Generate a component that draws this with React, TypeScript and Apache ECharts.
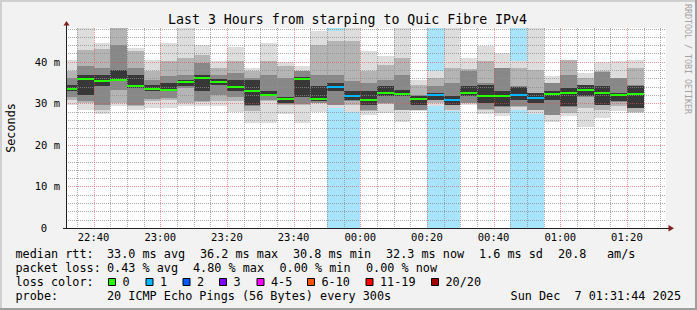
import React, { useEffect, useRef } from "react";
import * as echarts from "echarts";

// ---------- data ----------
const windowStart = "22:31:44";
const windowHours = 3;
const barStarts = ["22:30","22:35","22:40","22:45","22:50","22:55","23:00","23:05","23:10","23:15","23:20","23:25","23:30","23:35","23:40","23:45","23:50","23:55","00:00","00:05","00:10","00:15","00:20","00:25","00:30","00:35","00:40","00:45","00:50","00:55","01:00","01:05","01:10","01:15","01:20"];
const median = [33.5,35.9,35.3,35.7,34.2,33.5,33.3,35.2,36.2,35.2,34.0,33.0,32.1,31.0,35.9,31.1,34.0,31.7,30.9,32.6,32.3,31.0,32.1,30.7,32.6,31.7,31.8,32.1,31.4,32.3,32.6,33.3,32.6,32.1,32.3];
const lossCount = [0,0,0,0,0,0,0,0,0,0,0,0,0,0,0,0,1,1,0,0,0,0,1,1,0,0,0,1,1,0,0,0,0,0,0];
const pingMax = [40.5,49,44.5,49,43.3,40.5,44.5,49,44.1,40.1,43.5,38.5,44.5,39.9,38.9,47.3,47.3,49,42.7,41.3,49,35.7,37.7,49,40.9,43.9,42.1,40.1,49,36.5,40.5,37.3,39.9,40.1,40.5];
const pingHi1 = [37.7,42.9,43.0,49,42.5,37.7,40.1,40.9,41.7,38.5,40.1,37.7,40.1,38.9,37.9,44.1,44.9,44.9,37.7,39.3,40.9,34.5,36.1,38.5,38.3,40.1,38.5,38.5,38.1,35.0,40.4,36.1,37.7,36.1,38.5];
const pingHi2 = [36.1,38.9,38.5,44.1,38.5,35.5,36.5,36.9,39.7,36.9,37.3,36.1,36.7,36.1,37.7,36.9,36.9,35.3,34.9,35.7,36.9,31.9,34.1,34.9,37.9,35.0,38.4,34.1,32.5,34.9,36.9,34.5,37.6,36.0,34.5];
const pingHi3 = [34.5,36.9,36.9,38.1,36.9,34.5,34.9,35.7,36.9,35.9,35.7,35.5,32.9,31.5,36.3,34.1,34.9,32.9,32.9,34.1,33.3,31.7,32.5,31.7,34.1,34.3,32.9,34.0,32.4,32.9,33.7,34.4,34.1,32.5,34.1];
const pingLo3 = [32.9,32.1,34.1,35.3,33.7,32.9,32.9,34.1,32.9,34.3,32.9,29.7,31.7,30.1,31.5,30.5,32.9,30.9,29.7,31.7,31.7,29.7,30.9,29.7,31.7,30.1,29.3,30.9,30.1,30.9,29.4,31.7,29.7,30.5,28.9];
const pingLo2 = [31.5,30.6,29.7,33.3,29.7,31.0,31.3,33.6,30.5,32.1,31.5,29.3,30.9,29.9,29.9,30.2,29.7,30.5,28.5,30.1,28.5,28.5,30.7,29.6,30.1,28.6,29.2,29.3,28.5,27.3,29.2,31.6,29.6,30.4,28.8];
const pingLo1 = [30.7,30.0,28.5,30.1,29.3,30.5,30.9,30.0,30.3,30.5,30.5,28.1,30.5,29.7,29.7,30.0,29.5,29.7,28.1,29.9,28.3,28.4,30.1,28.5,30.0,28.3,27.7,29.2,28.4,27.2,27.7,28.9,28.5,29.3,27.9];
const pingMin = [29.5,28.3,27.4,29.3,28.5,28.9,28.9,29.3,29.3,29.3,27.9,25.3,25.3,27.4,25.3,27.9,28.9,27.9,27.3,27.7,25.4,28.2,29.3,28.2,29.5,27.4,26.9,28.5,27.4,25.4,26.9,24.4,26.5,28.2,27.7];

const xTickLabels = ["22:40","23:00","23:20","23:40","00:00","00:20","00:40","01:00","01:20"];
const yTickLabels = ["0","10 m","20 m","30 m","40 m"];
const yMaxMs = 48.13;

const titleText = "Last 3 Hours from starping to Quic Fibre IPv4";
const rttLabel = "median rtt:";
const rttStats = ["33.0 ms avg","36.2 ms max","30.8 ms min","32.3 ms now","1.6 ms sd","20.8","am/s"];
const lossLabel = "packet loss:";
const lossStats = ["0.43 % avg","4.80 % max","0.00 % min","0.00 % now"];
const lossColorLabel = "loss color:";
const lossLegendLabels = ["0","1","2","3","4-5","6-10","11-19","20/20"];
const lossLegendColors = ["#26ff00","#00b8ff","#0059ff","#7e00ff","#ff00ff","#ff5500","#ff0000","#a10000"];
const probeLabel = "probe:";
const probeText = "20 ICMP Echo Pings (56 Bytes) every 300s";
const dateText = "Sun Dec  7 01:31:44 2025";

// ---------- layout / style ----------
const FONT = "'DejaVu Sans Mono', monospace";
const smokeColors = ["#dddddd", "#b4b4b4", "#888888", "#383838"];
const lossBg = "#a8e4fc";
const minorGrid = "rgba(143,143,143,0.75)";
const majorGrid = "rgba(222,79,79,0.6)";
const rttCols = [107, 200, 293, 386, 479, 558, 607];
const lossCols = [107, 193, 279.5, 366];
const legendSquareX = [108, 145.5, 182.5, 219, 256.5, 307, 365.5, 431];
const rowY = [254.3, 268, 281.8, 295.5];

const toMin = (s: string) => {
  const p = s.split(":").map(Number);
  const h = p[0] < 12 ? p[0] + 24 : p[0];
  return h * 60 + p[1] - 22 * 60 + (p[2] || 0) / 60;
};
const X_MIN = toMin(windowStart);
const X_MAX = X_MIN + windowHours * 60;

export default function App() {
  const ref = useRef<HTMLDivElement>(null);
  useEffect(() => {
    const chart = echarts.init(ref.current!, null, { renderer: "svg" });

    const clipRect = (api: any, cs: any, x0: number, x1: number, lo: number, hi: number) => {
      const a = api.coord([x0, hi]);
      const b = api.coord([x1, lo]);
      const left = Math.round(a[0]);
      const right = Math.round(b[0]);
      const top = Math.round(a[1]);
      const bottom = Math.round(b[1]);
      return echarts.graphic.clipRectByRect(
        { x: left, y: top, width: right - left, height: bottom - top },
        { x: cs.x, y: cs.y, width: cs.width, height: cs.height }
      );
    };

    const smokeData = barStarts.map((s, i) => {
      const x0 = toMin(s);
      return [x0, x0 + 5, pingMin[i], pingLo1[i], pingLo2[i], pingLo3[i], pingHi3[i], pingHi2[i], pingHi1[i], pingMax[i]];
    });
    const lossData = barStarts
      .map((s, i) => [toMin(s), toMin(s) + 5, lossCount[i]])
      .filter((d) => d[2] > 0);
    const medianData = barStarts.map((s, i) => [toMin(s), toMin(s) + 5, median[i], lossCount[i]]);

    const gridData: number[][] = [];
    for (let v = 2; v <= 48; v += 2) gridData.push([0, v, v % 10 === 0 ? 1 : 0]);
    for (let v = 35; v <= 210; v += 5) gridData.push([1, v, v % 20 === 0 ? 1 : 0]);

    const text = (t: string, x: number, y: number, extra: any = {}) => ({
      type: "text",
      x,
      y,
      silent: true,
      rotation: extra.rotation || 0,
      style: {
        text: t,
        x: 0,
        y: 0,
        fill: extra.fill || "#000",
        fontSize: extra.fontSize || 11.8,
        fontFamily: FONT,
        textAlign: extra.align || "left",
        align: extra.align || "left",
        textVerticalAlign: "middle",
        verticalAlign: "middle",
      },
    });

    const graphics: any[] = [
      { type: "rect", shape: { x: 0, y: 0, width: 697, height: 2 }, style: { fill: "#cfcfcf" }, silent: true },
      { type: "rect", shape: { x: 0, y: 0, width: 2, height: 310 }, style: { fill: "#cfcfcf" }, silent: true },
      { type: "rect", shape: { x: 0, y: 308, width: 697, height: 2 }, style: { fill: "#9e9e9e" }, silent: true },
      { type: "rect", shape: { x: 695, y: 0, width: 2, height: 310 }, style: { fill: "#9e9e9e" }, silent: true },
      { type: "line", shape: { x1: 63, y1: 228.5, x2: 669, y2: 228.5 }, style: { stroke: "#1f1f1f", lineWidth: 1 }, silent: true, z: 100 },
      { type: "line", shape: { x1: 66.5, y1: 229, x2: 66.5, y2: 24 }, style: { stroke: "#1f1f1f", lineWidth: 1 }, silent: true, z: 100 },
      { type: "polygon", shape: { points: [[63.5, 25.5], [69.5, 25.5], [66.5, 21]] }, style: { fill: "#801f1f" }, silent: true, z: 100 },
      { type: "polygon", shape: { points: [[668.5, 225], [668.5, 231.5], [674, 228.3]] }, style: { fill: "#801f1f" }, silent: true, z: 100 },
      text(titleText, 347.5, 19.5, { align: "center", fontSize: 13.25 }),
      text("Seconds", 11, 128, { align: "center", rotation: Math.PI / 2 }),
      text("RRDTOOL / TOBI OETIKER", 688, 59, { align: "center", rotation: -Math.PI / 2, fontSize: 8.3, fill: "#a4a4a4" }),
      text(rttLabel, 15.5, rowY[0]),
      ...rttStats.map((s, i) => text(s, rttCols[i], rowY[0])),
      text(lossLabel, 15.5, rowY[1]),
      ...lossStats.map((s, i) => text(s, lossCols[i], rowY[1])),
      text(lossColorLabel, 15.5, rowY[2]),
      ...lossLegendLabels.map((s, i) => text(s, legendSquareX[i] + 14.5, rowY[2])),
      ...lossLegendColors.map((c, i) => ({
        type: "rect",
        silent: true,
        shape: { x: legendSquareX[i] + 0.5, y: 278.5, width: 7, height: 7 },
        style: { fill: c, stroke: "#000", lineWidth: 1 },
      })),
      text(probeLabel, 15.5, rowY[3]),
      text(probeText, 107, rowY[3]),
      text(dateText, 681, rowY[3], { align: "right" }),
    ];

    const option: any = {
      animation: false,
      backgroundColor: "#f2f2f2",
      grid: { left: 66, top: 28, width: 600, height: 200, show: true, backgroundColor: "#ffffff", borderWidth: 0 },
      xAxis: {
        type: "value",
        min: X_MIN,
        max: X_MAX,
        minInterval: 20,
        maxInterval: 20,
        axisLine: { show: false },
        axisTick: { show: false },
        splitLine: { show: false },
        axisLabel: {
          interval: 0,
          margin: 3,
          color: "#000",
          fontFamily: FONT,
          fontSize: 10.5,
          formatter: (v: number) => {
            const idx = (v - 40) / 20;
            if (Math.abs(idx - Math.round(idx)) > 1e-6) return "";
            return xTickLabels[Math.round(idx)] || "";
          },
        },
      },
      yAxis: {
        type: "value",
        min: 0,
        max: yMaxMs,
        interval: 2,
        axisLine: { show: false },
        axisTick: { show: false },
        splitLine: { show: false },
        axisLabel: {
          interval: 0,
          margin: 6,
          color: "#000",
          fontFamily: FONT,
          fontSize: 10.5,
          formatter: (v: number) => {
            const idx = v / 10;
            if (Math.abs(idx - Math.round(idx)) > 1e-6) return "";
            const lab = yTickLabels[Math.round(idx)] || "";
            return idx === 0 ? "{z|" + lab + "}" : lab;
          },
          rich: { z: { padding: [0, 13, 0, 0], fontFamily: FONT, fontSize: 10.5, color: "#000" } },
        },
      },
      series: [
        {
          type: "custom",
          z: 1,
          silent: true,
          data: lossData,
          encode: { x: [0, 1], y: 2 },
          renderItem: (params: any, api: any) => {
            const r = clipRect(api, params.coordSys, api.value(0), api.value(1), 0, yMaxMs);
            return r ? { type: "rect", shape: r, style: { fill: lossBg } } : null;
          },
        },
        {
          type: "custom",
          z: 2,
          silent: true,
          data: smokeData,
          encode: { x: [0, 1], y: [2, 3, 4, 5, 6, 7, 8, 9] },
          renderItem: (params: any, api: any) => {
            const x0 = api.value(0), x1 = api.value(1);
            const v = [2, 3, 4, 5, 6, 7, 8, 9].map((k) => api.value(k));
            const children: any[] = [];
            for (let b = 0; b < 4; b++) {
              const r = clipRect(api, params.coordSys, x0, x1, v[b], v[7 - b]);
              if (r) children.push({ type: "rect", shape: r, style: { fill: smokeColors[b] } });
            }
            return { type: "group", children };
          },
        },
        {
          type: "custom",
          z: 3,
          silent: true,
          data: gridData,
          renderItem: (params: any, api: any) => {
            const cs = params.coordSys;
            const orient = api.value(0), val = api.value(1), major = api.value(2);
            const stroke = major ? majorGrid : minorGrid;
            if (orient === 0) {
              const y = Math.round(api.coord([X_MIN, val])[1]) + 0.5;
              return { type: "line", shape: { x1: cs.x, y1: y, x2: cs.x + cs.width, y2: y }, style: { stroke, lineWidth: 1, lineDash: [1, 1] } };
            }
            const x = Math.round(api.coord([val, 0])[0]) + 0.5;
            return { type: "line", shape: { x1: x, y1: cs.y, x2: x, y2: cs.y + cs.height }, style: { stroke, lineWidth: 1, lineDash: [1, 1] } };
          },
        },
        {
          type: "custom",
          z: 4,
          silent: true,
          data: medianData,
          encode: { x: [0, 1], y: 2 },
          renderItem: (params: any, api: any) => {
            const a = api.coord([api.value(0), api.value(2)]);
            const b = api.coord([api.value(1), api.value(2)]);
            const y = Math.round(a[1]) - 1;
            const r = echarts.graphic.clipRectByRect(
              { x: Math.round(a[0]), y, width: Math.round(b[0]) - Math.round(a[0]), height: 2 },
              { x: params.coordSys.x, y: params.coordSys.y, width: params.coordSys.width, height: params.coordSys.height }
            );
            const color = api.value(3) > 0 ? lossLegendColors[1] : lossLegendColors[0];
            return r ? { type: "rect", shape: r, style: { fill: color } } : null;
          },
        },
      ],
      graphic: graphics,
    };
    chart.setOption(option);
    return () => chart.dispose();
  }, []);
  return <div ref={ref} style={{ position: "fixed", left: 0, top: 0, width: 697, height: 310 }} />;
}
